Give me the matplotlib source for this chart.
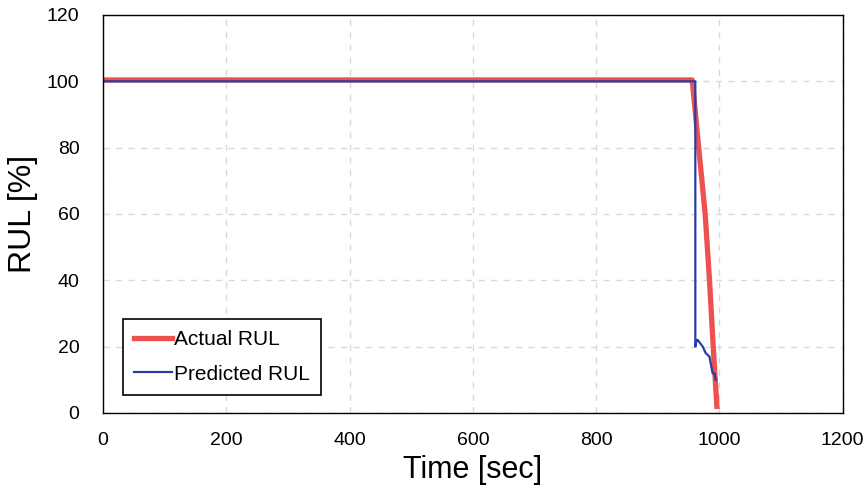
import matplotlib.pyplot as plt

plt.rcParams['font.family'] = ['Liberation Sans', 'DejaVu Sans']

# data
actual_time = [0, 956, 967, 977, 984, 990, 996]
actual_rul = [100.4, 100.4, 79, 60, 40, 20, 2]

pred_time = [0, 961, 961, 963, 965, 969, 973, 978, 984, 986, 989, 992, 994]
pred_rul = [100, 100, 20, 22, 22, 21, 20, 18, 17, 15, 12, 12, 10]

x_ticks = [0, 200, 400, 600, 800, 1000, 1200]
y_ticks = [0, 20, 40, 60, 80, 100, 120]

fig = plt.figure(figsize=(8.66, 4.92), dpi=100)
ax = fig.add_axes([0.119, 0.1606, 0.854, 0.809])

ax.plot(actual_time, actual_rul, color='#EE5050', lw=3.8, label='Actual RUL')
ax.plot(pred_time, pred_rul, color='#2B3CA6', lw=1.6, label='Predicted RUL')

ax.set_xlim(0, 1200)
ax.set_ylim(0, 120)
ax.set_xticks(x_ticks)
ax.set_yticks(y_ticks)
ax.tick_params(length=0, labelsize=14)
ax.tick_params(axis='x', pad=14)
ax.tick_params(axis='y', pad=17)
ax.grid(True, color='#D9D9D9', linestyle=(0, (4.5, 4.5)), lw=1.0)
for s in ax.spines.values():
    s.set_color('black')
    s.set_linewidth(1.0)

ax.set_xlabel('Time [sec]', fontsize=22, labelpad=4)
ax.set_ylabel('RUL [%]', fontsize=23, labelpad=6)

leg = ax.legend(loc='lower left', bbox_to_anchor=(0.027, 0.045), fontsize=15,
                fancybox=False, framealpha=1, edgecolor='black', handlelength=1.8,
                handletextpad=0.1, borderpad=0.55, labelspacing=0.75, borderaxespad=0)
leg.get_frame().set_linewidth(1.2)

plt.savefig('out.png')
